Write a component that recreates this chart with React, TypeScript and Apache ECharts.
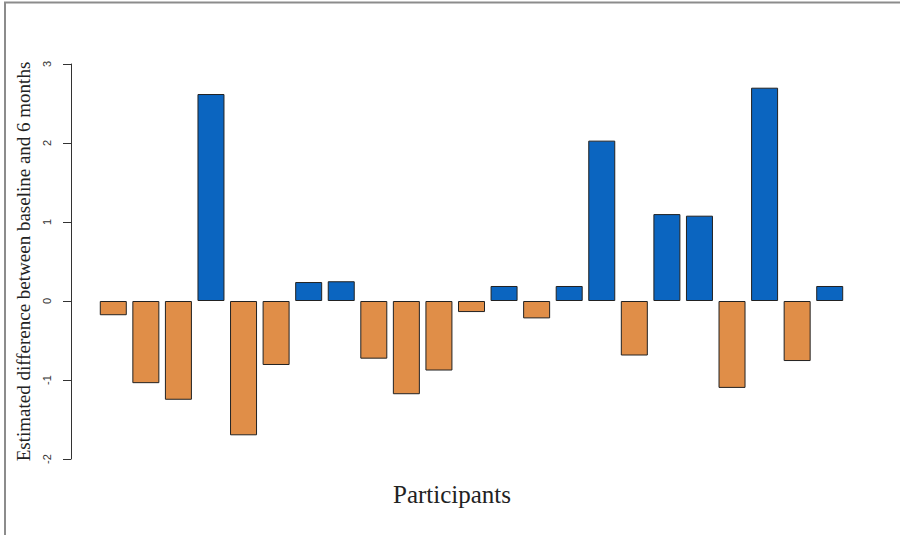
import React, { useEffect, useRef } from "react";
import * as echarts from "echarts";

const participants: string[] = Array.from({ length: 23 }, (_, i) => `P${i + 1}`);
const differences: number[] = [
  -0.18, -1.04, -1.25, 2.62, -1.7, -0.81, 0.24, 0.25, -0.73, -1.18, -0.88, -0.14,
  0.19, -0.22, 0.19, 2.03, -0.69, 1.1, 1.08, -1.1, 2.7, -0.76, 0.19,
];
const yTicks: number[] = [-2, -1, 0, 1, 2, 3];
const yTitle = "Estimated difference between baseline and 6 months";
const xTitle = "Participants";

const BLUE = "#0B65C0";
const ORANGE = "#E08E48";

export default function App() {
  const ref = useRef<HTMLDivElement>(null);
  useEffect(() => {
    if (!ref.current) return;
    const chart = echarts.init(ref.current, undefined, { renderer: "svg" });
    chart.setOption({
      animation: false,
      backgroundColor: "#ffffff",
      grid: { left: 97, width: 749, top: 64, bottom: 76, outerBoundsMode: "none", containLabel: false },
      xAxis: {
        type: "category",
        data: participants,
        show: false,
      },
      yAxis: {
        type: "value",
        min: yTicks[0],
        max: yTicks[yTicks.length - 1],
        interval: 1,
        offset: 26,
        name: yTitle,
        nameLocation: "middle",
        nameGap: 34,
        nameTextStyle: {
          fontFamily: "Liberation Serif",
          fontSize: 19,
          color: "#222",
        },
        axisLine: { show: true, lineStyle: { color: "#333", width: 1 } },
        axisTick: { show: true, length: 8, lineStyle: { color: "#333", width: 1 } },
        axisLabel: {
          rotate: 90,
          margin: 19,
          fontFamily: "Liberation Sans",
          fontSize: 11,
          color: "#333",
        },
        splitLine: { show: false },
      },
      series: [
        {
          type: "bar",
          data: differences,
          barWidth: 27,
          itemStyle: {
            color: (p: any) => (p.value >= 0 ? BLUE : ORANGE),
            borderColor: "#222",
            borderWidth: 1,
          },
        },
      ],
      graphic: [
        {
          type: "rect",
          shape: { x: 5, y: 2.5, width: 1000, height: 1000 },
          style: { fill: "none", stroke: "#8c8c8c", lineWidth: 2 },
          silent: true,
        },
        {
          type: "text",
          x: 452,
          y: 494,
          style: {
            text: xTitle,
            fontFamily: "Liberation Serif",
            fontSize: 25,
            fill: "#222",
            textAlign: "center",
            textVerticalAlign: "middle",
          },
        },
      ],
    });
    return () => chart.dispose();
  }, []);
  return (
    <div
      ref={ref}
      style={{ position: "fixed", left: 0, top: 0, width: 900, height: 535 }}
    />
  );
}
